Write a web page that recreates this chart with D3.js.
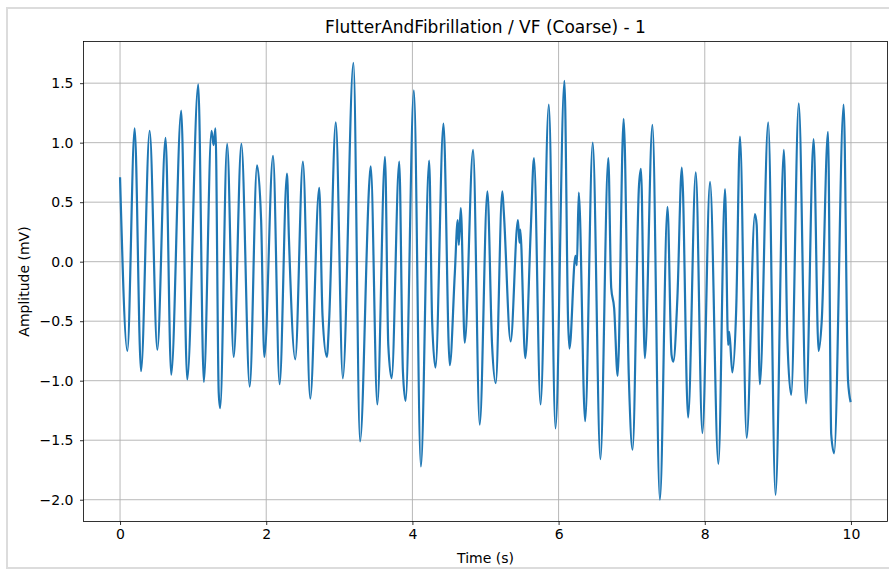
<!DOCTYPE html>
<html><head><meta charset="utf-8">
<script src="https://cdn.jsdelivr.net/npm/d3@7"></script>
<style>body{margin:0;background:#fff;}svg{display:block;font-family:"DejaVu Sans",sans-serif;}</style>
</head><body><svg id="c" width="889" height="571"></svg>
<script>
const timeSec = [0.00,0.10,0.20,0.287,0.405,0.51,0.623,0.70,0.837,0.919,1.07,1.146,1.251,1.28,1.306,1.35,1.37,1.465,1.555,1.66,1.774,1.874,1.93,1.974,2.093,2.183,2.284,2.31,2.397,2.502,2.602,2.725,2.77,2.829,2.86,2.952,3.048,3.193,3.284,3.411,3.43,3.52,3.625,3.67,3.716,3.82,3.87,3.907,4.02,4.116,4.229,4.27,4.316,4.425,4.511,4.58,4.62,4.635,4.662,4.716,4.83,4.921,5.026,5.09,5.14,5.23,5.25,5.344,5.444,5.465,5.475,5.544,5.62,5.663,5.753,5.866,5.958,6.08,6.13,6.149,6.23,6.25,6.276,6.363,6.467,6.572,6.68,6.72,6.76,6.808,6.89,6.96,7.012,7.10,7.127,7.18,7.284,7.386,7.49,7.545,7.57,7.625,7.686,7.772,7.877,7.967,8.072,8.186,8.277,8.32,8.335,8.377,8.43,8.482,8.573,8.686,8.71,8.754,8.868,8.968,9.082,9.13,9.182,9.286,9.386,9.489,9.557,9.60,9.686,9.73,9.77,9.90,9.96,9.996];
const amplitudeMv = [0.71,-0.75,1.12,-0.92,1.10,-0.74,1.04,-0.95,1.27,-0.99,1.49,-1.01,1.10,0.98,1.12,-1.10,-1.23,0.99,-0.80,0.99,-1.05,0.81,0.35,-0.80,0.89,-1.03,0.74,0.21,-0.82,0.84,-1.15,0.62,-0.45,-0.80,-0.50,1.17,-0.98,1.67,-1.51,0.67,0.80,-1.20,0.88,-0.70,-0.98,0.84,-0.92,-1.17,1.44,-1.72,0.85,-0.50,-0.89,1.16,-0.87,-0.10,0.35,0.14,0.45,-0.68,0.94,-1.37,0.59,-0.70,-1.02,0.59,0.42,-0.67,0.35,0.16,0.27,-0.81,0.28,0.87,-1.20,1.32,-1.40,1.52,-0.50,-0.73,0.05,-0.03,0.58,-1.34,1.00,-1.66,0.87,-0.22,-0.39,-0.96,1.20,-0.95,-1.58,0.64,0.78,-0.81,1.15,-2.00,0.46,-0.78,-0.84,-0.31,0.79,-1.31,0.75,-1.44,0.67,-1.70,0.61,-0.70,-0.59,-0.93,-0.40,1.05,-1.48,0.40,0.31,-1.03,1.17,-1.96,0.94,-0.65,-1.12,1.33,-1.19,1.03,-0.75,-0.50,1.09,-1.45,-1.61,1.32,-1.00,-1.18];
const xTicks = [0,2,4,6,8,10];
const yTicks = [-2.0,-1.5,-1.0,-0.5,0.0,0.5,1.0,1.5];
const titleText = "FlutterAndFibrillation / VF (Coarse) - 1";
const xLabel = "Time (s)";
const yLabel = "Amplitude (mV)";

const svg = d3.select("#c");
const L=83.5, R=887.5, T=41.5, B=521.5;
svg.append("rect").attr("x",7).attr("y",8).attr("width",900).attr("height",560).attr("fill","none").attr("stroke","#dcdcdc").attr("stroke-width",2);
const x = d3.scaleLinear().domain([-0.5,10.5]).range([L,R]);
const y = d3.scaleLinear().domain([-2.183,1.85]).range([B,T]);
const g = svg.append("g");
g.selectAll(".gx").data(xTicks).join("line").attr("x1",d=>x(d)).attr("x2",d=>x(d)).attr("y1",T).attr("y2",B).attr("stroke","#b0b0b0").attr("stroke-width",0.9);
g.selectAll(".gy").data(yTicks).join("line").attr("y1",d=>y(d)).attr("y2",d=>y(d)).attr("x1",L).attr("x2",R).attr("stroke","#b0b0b0").attr("stroke-width",0.9);
const fmt = d=> (d<0?"\u2212":"")+Math.abs(d).toFixed(1);
const xa = svg.append("g").attr("transform",`translate(0,${B})`).call(d3.axisBottom(x).tickValues(xTicks).tickSize(3.5).tickPadding(4).tickFormat(d=>String(d)));
const ya = svg.append("g").attr("transform",`translate(${L},0)`).call(d3.axisLeft(y).tickValues(yTicks).tickSize(3.5).tickPadding(6.5).tickFormat(fmt));
[xa,ya].forEach(a=>{a.select(".domain").remove();a.selectAll("text").attr("font-size",14).attr("fill","#000").attr("font-family","DejaVu Sans");a.selectAll("line").attr("stroke","#000").attr("stroke-width",0.8);});
const pts = timeSec.map((t,i)=>[t,amplitudeMv[i]]);
svg.append("path").datum(pts).attr("fill","none").attr("stroke","#1f77b4").attr("stroke-width",2.2).attr("stroke-linejoin","round")
  .attr("d",d3.line().x(d=>x(d[0])).y(d=>y(d[1])).curve(d3.curveMonotoneX));
svg.append("rect").attr("x",L).attr("y",T).attr("width",R-L).attr("height",B-T).attr("fill","none").attr("stroke","#000").attr("stroke-width",0.8);
svg.append("text").attr("x",(L+R)/2).attr("y",33).attr("text-anchor","middle").attr("font-size",17).text(titleText);
svg.append("text").attr("x",(L+R)/2).attr("y",563).attr("text-anchor","middle").attr("font-size",14).text(xLabel);
svg.append("text").attr("transform",`translate(29,${(T+B)/2}) rotate(-90)`).attr("text-anchor","middle").attr("font-size",14).text(yLabel);
</script></body></html>
